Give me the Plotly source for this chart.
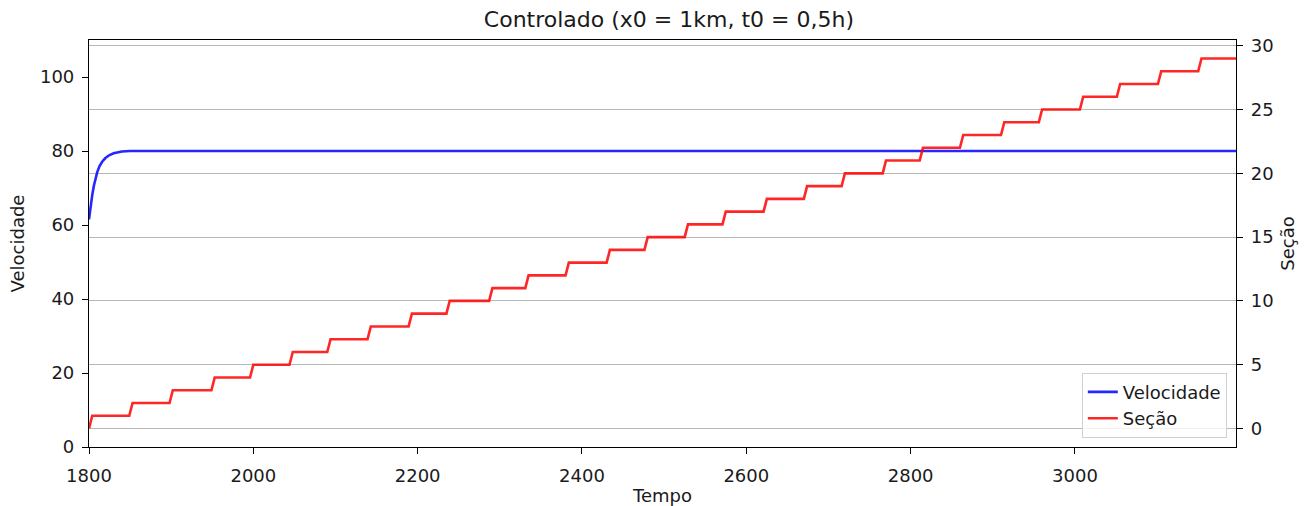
import plotly.graph_objects as go

# Velocity response (time in s, velocity) - approaches the 80 setpoint
vel_tempo = [1800, 1801, 1802, 1804, 1806, 1808, 1810, 1813, 1816, 1820,
             1825, 1830, 1835, 1840, 1850, 1870, 3196]
vel_valor = [61.5, 63.4, 65.2, 68.2, 70.7, 72.7, 74.3, 76.0, 77.1, 78.1,
             78.9, 79.4, 79.7, 79.85, 80.0, 80.0, 80.0]

# Instants when the vehicle enters each new section (section 1 .. 29)
secao_inicio = [1800, 1849, 1898, 1949, 1996, 2044, 2090, 2139, 2189, 2235,
                2287, 2331, 2380, 2430, 2476, 2525, 2571, 2621, 2670, 2716,
                2766, 2811, 2860, 2910, 2956, 3006, 3051, 3101, 3150]
secao_fim = 3196
transicao = 4  # duration of each section change in the sampled signal

# Polyline of the section index: flat runs joined by short sampled ramps
sec_x, sec_y = [], []
for k, t in enumerate(secao_inicio):
    sec_x += [t, t + transicao]
    sec_y += [k, k + 1]
sec_x.append(secao_fim)
sec_y.append(len(secao_inicio))

x_ticks = [1800, 2000, 2200, 2400, 2600, 2800, 3000]
y1_ticks = [0, 20, 40, 60, 80, 100]
y2_ticks = [0, 5, 10, 15, 20, 25, 30]

FONT = "DejaVu Sans"
TXT = "#1a1a1a"

fig = go.Figure()
fig.add_trace(go.Scatter(
    x=vel_tempo, y=vel_valor, mode="lines", name="Velocidade",
    line=dict(color="rgba(0,0,255,0.85)", width=2.6), yaxis="y"))
fig.add_trace(go.Scatter(
    x=sec_x, y=sec_y, mode="lines", name="Seção",
    line=dict(color="rgba(255,0,0,0.85)", width=2.6), yaxis="y2"))

axis_common = dict(
    showline=True, linecolor="black", linewidth=1.2,
    ticks="outside", ticklen=6, tickwidth=1.2, tickcolor="black",
    tickfont=dict(family=FONT, size=18, color=TXT),
    zeroline=False, automargin=False,
)

fig.update_layout(
    width=1310, height=506,
    margin=dict(l=89, r=74, t=40, b=59),
    paper_bgcolor="white", plot_bgcolor="white",
    font=dict(family=FONT, size=18, color=TXT),
    title=dict(text="Controlado (x0 = 1km, t0 = 0,5h)",
               font=dict(family=FONT, size=22, color=TXT),
               x=0.5056, xanchor="center", y=1 - 19 / 506, yanchor="middle",
               xref="paper", yref="container"),
    xaxis=dict(range=[1800, 3196], tickvals=x_ticks, showgrid=False,
               mirror=True, ticklabelstandoff=6,
               title=dict(text="Tempo", font=dict(family=FONT, size=18, color=TXT),
                          standoff=8),
               **axis_common),
    yaxis=dict(range=[0, 110], tickvals=y1_ticks, showgrid=False,
               ticklabelstandoff=4,
               title=dict(text="Velocidade", font=dict(family=FONT, size=18, color=TXT),
                          standoff=10),
               **axis_common),
    yaxis2=dict(range=[-1.45, 30.45], tickvals=y2_ticks, overlaying="y",
                side="right", showgrid=True, gridcolor="#b8b8b8", gridwidth=1.4,
                ticklabelstandoff=4,
                title=dict(text="Seção", font=dict(family=FONT, size=18, color=TXT),
                           standoff=8),
                **axis_common),
    legend=dict(x=0.992, y=0.023, xanchor="right", yanchor="bottom",
                bgcolor="rgba(255,255,255,0.8)", bordercolor="#d0d0d0",
                borderwidth=1, font=dict(family=FONT, size=18, color=TXT),
                tracegroupgap=0),
    showlegend=True,
)

fig.write_html("out.html")
